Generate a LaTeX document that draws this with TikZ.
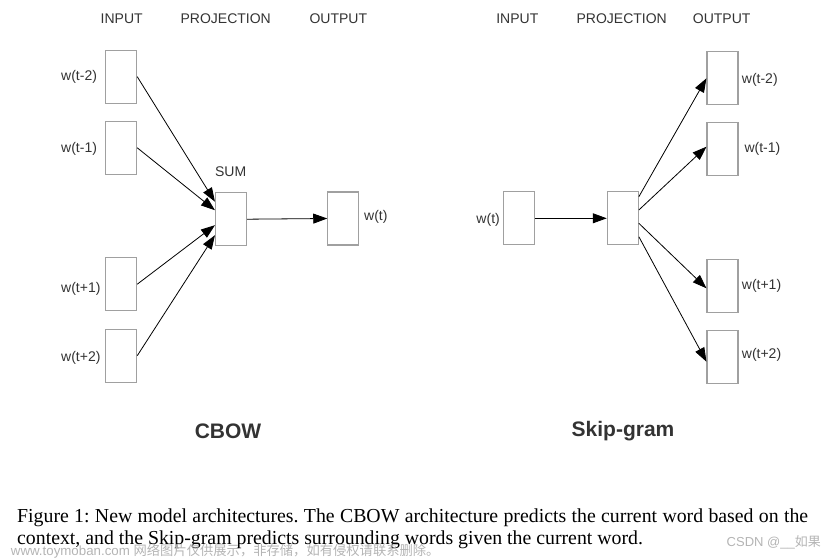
\documentclass[tikz,border=0pt]{standalone}
\usepackage{fontspec}
\setmainfont{Liberation Serif}
\setsansfont{Liberation Sans}
\newfontfamily\cjkfont{Noto Sans CJK SC}
\usetikzlibrary{arrows.meta}
\definecolor{txt}{HTML}{333333}
\definecolor{boxc}{HTML}{A0A0A0}
\definecolor{wm}{HTML}{B4B4B4}
\frenchspacing
\tikzset{
  vbox/.style={draw=boxc, line width=1.1pt, minimum width=31pt, minimum height=53pt, inner sep=0pt},
  lbl/.style={text=txt, font=\sffamily\fontsize{14}{16}\selectfont, inner sep=0pt},
  head/.style={lbl},
  titletext/.style={text=txt, font=\sffamily\bfseries\fontsize{21}{24}\selectfont, inner sep=0pt},
  conn/.style={line width=0.8pt, -{Triangle[length=14pt,width=10pt]}},
  captext/.style={font=\fontsize{19.8}{22}\selectfont, inner sep=0pt, anchor=base west},
  wmark/.style={text=wm, inner sep=0pt}
}
\begin{document}
\begin{tikzpicture}[x=1pt,y=-1pt]
\useasboundingbox (0,0) rectangle (827,559);
% ---------- CBOW ----------
\node[head] (h1) at (121.7,19) {INPUT};
\node[head] (h2) at (225.7,19) {PROJECTION};
\node[head] (h3) at (338.3,19) {OUTPUT};
\node[vbox] (i1) at (121.2,76.7) {};
\node[vbox] (i2) at (121.2,147.8) {};
\node[vbox] (i3) at (121.2,284.2) {};
\node[vbox] (i4) at (121.2,355.7) {};
\node[vbox] (sum) at (231,219.2) {};
\node[vbox] (out) at (343.3,218.5) {};
\node[lbl,anchor=west] (li1) at (61,77) {w(t-2)};
\node[lbl,anchor=west] (li2) at (61,149) {w(t-1)};
\node[lbl,anchor=west] (li3) at (61,289) {w(t+1)};
\node[lbl,anchor=west] (li4) at (61,357.5) {w(t+2)};
\node[lbl] (lsum) at (230.7,171.7) {SUM};
\node[lbl,anchor=west] (lout) at (364,216.7) {w(t)};
\draw[conn] (i1.east) -- ([yshift=17.5pt]sum.west);
\draw[conn] (i2.east) -- ([yshift=9pt]sum.west);
\draw[conn] (i3.east) -- ([yshift=-6pt]sum.west);
\draw[conn] (i4.east) -- ([yshift=-16pt]sum.west);
\draw[conn] (sum.east) -- (out.west);
\node[titletext] (t1) at (228,431) {CBOW};
% ---------- Skip-gram ----------
\node[head] (g1) at (517.3,19) {INPUT};
\node[head] (g2) at (621.7,19) {PROJECTION};
\node[head] (g3) at (721.7,19) {OUTPUT};
\node[vbox] (in) at (518.8,218.3) {};
\node[vbox] (proj) at (622.8,218.3) {};
\node[vbox] (o1) at (722.5,78.3) {};
\node[vbox] (o2) at (722.5,149.3) {};
\node[vbox] (o3) at (722.5,286) {};
\node[vbox] (o4) at (722.5,357) {};
\node[lbl,anchor=east] (lin) at (500,220) {w(t)};
\node[lbl,anchor=west] (lo1) at (741.7,80) {w(t-2)};
\node[lbl,anchor=west] (lo2) at (744.3,149.3) {w(t-1)};
\node[lbl,anchor=west] (lo3) at (741.7,286) {w(t+1)};
\node[lbl,anchor=west] (lo4) at (741.7,355) {w(t+2)};
\draw[conn] (in.east) -- (proj.west);
\draw[conn] ([yshift=21.6pt]proj.east) -- (o1.west);
\draw[conn] ([yshift=8.3pt]proj.east) -- ([yshift=2.6pt]o2.west);
\draw[conn] ([yshift=-5pt]proj.east) -- ([yshift=-2.3pt]o3.west);
\draw[conn] ([yshift=-18.4pt]proj.east) -- ([yshift=-4.7pt]o4.west);
\node[titletext] (t2) at (623,431) {Skip-gram};
% ---------- caption ----------
\node[captext] (c1) at (17,522) {\makebox[791pt][s]{Figure 1: New model architectures. The CBOW architecture predicts the current word based on the}};
\node[captext] (c2) at (17,544) {context, and the Skip-gram predicts surrounding words given the current word.};
% ---------- watermarks ----------
\node[wmark,anchor=west,font=\sffamily\fontsize{13.3}{15}\selectfont] (w1) at (10.7,551.5) {www.toymoban.com \cjkfont 网络图片仅供展示，非存储，如有侵权请联系删除。};
\node[wmark,anchor=east,font=\sffamily\fontsize{13}{15}\selectfont] (w2) at (821,542.5) {CSDN @\_\_\cjkfont 如果};
\end{tikzpicture}
\end{document}
